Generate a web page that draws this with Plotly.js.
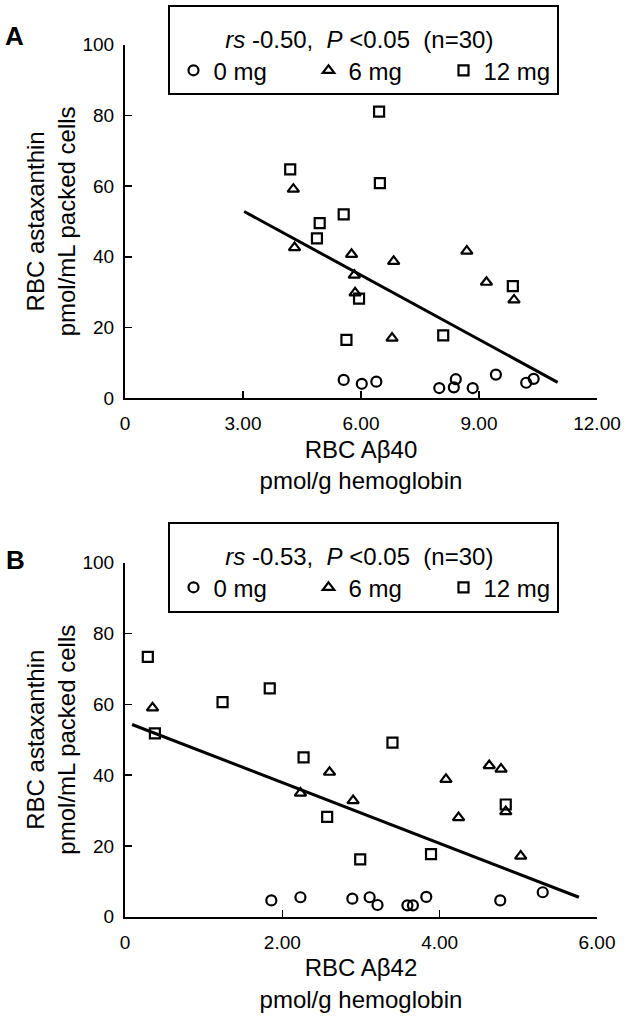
<!DOCTYPE html>
<html><head><meta charset="utf-8">
<script src="https://cdn.plot.ly/plotly-3.0.1.min.js"></script>
<style>html,body{margin:0;padding:0;background:#fff}#chart{width:629px;height:1018px}</style>
</head><body><div id="chart"></div>
<script>
// ---- Panel A: RBC Aβ40 (x) vs RBC astaxanthin (y)
const a_x_0mg  = [5.56, 6.02, 6.39, 7.99, 8.36, 8.41, 8.84, 9.43, 10.20, 10.39];
const a_y_0mg  = [5.2, 4.1, 4.7, 2.9, 3.1, 5.4, 2.9, 6.7, 4.4, 5.5];
const a_x_6mg  = [4.28, 4.31, 5.76, 6.83, 5.83, 5.85, 6.79, 8.69, 9.19, 9.89];
const a_y_6mg  = [59.1, 42.6, 40.7, 38.7, 34.8, 29.8, 17.0, 41.6, 32.8, 27.8];
const a_x_12mg = [6.46, 4.20, 6.48, 5.56, 4.95, 4.88, 5.95, 5.63, 8.09, 9.86];
const a_y_12mg = [81.0, 64.7, 60.8, 52.0, 49.5, 45.2, 28.2, 16.5, 17.8, 31.7];
const a_fit_x  = [3.03, 11.0];
const a_fit_y  = [52.8, 4.5];
const a_tickvals = [0, 3, 6, 9, 12];
const a_ticktext = ['0', '3.00', '6.00', '9.00', '12.00'];
const a_stat = '<i>rs</i> -0.50,&nbsp; <i>P</i> &lt;0.05&nbsp; (n=30)';
const a_xtitle = 'RBC Aβ40<br>pmol/g hemoglobin';

// ---- Panel B: RBC Aβ42 (x) vs RBC astaxanthin (y)
const b_x_0mg  = [1.86, 2.23, 2.89, 3.11, 3.21, 3.59, 3.66, 3.83, 4.77, 5.31];
const b_y_0mg  = [4.6, 5.5, 5.1, 5.5, 3.3, 3.2, 3.2, 5.6, 4.6, 6.9];
const b_x_6mg  = [0.35, 2.23, 2.60, 2.90, 4.08, 4.24, 4.63, 4.78, 4.84, 5.03];
const b_y_6mg  = [59.0, 34.9, 40.8, 32.8, 38.8, 28.0, 42.7, 41.7, 29.7, 17.1];
const b_x_12mg = [0.29, 0.38, 1.24, 1.84, 2.27, 3.40, 2.57, 2.99, 3.89, 4.84];
const b_y_12mg = [73.4, 51.8, 60.6, 64.5, 45.0, 49.2, 28.2, 16.2, 17.7, 31.7];
const b_fit_x  = [0.09, 5.77];
const b_fit_y  = [54.3, 5.5];
const b_tickvals = [0, 2, 4, 6];
const b_ticktext = ['0', '2.00', '4.00', '6.00'];
const b_stat = '<i>rs</i> -0.53,&nbsp; <i>P</i> &lt;0.05&nbsp; (n=30)';
const b_xtitle = 'RBC Aβ42<br>pmol/g hemoglobin';

// ---- shared
const y_tickvals = [0, 20, 40, 60, 80, 100];
const groups = ['0 mg', '6 mg', '12 mg'];
const symbols = ['circle-open', 'triangle-up-open', 'square-open'];
const ytitle = 'RBC astaxanthin<br>pmol/mL packed cells';

const W = 629, H = 1018;
const FONT = 'Liberation Sans, Arial, Helvetica, sans-serif';
const SIZES = [10, 10, 10];
const TITLE_PAD = '&nbsp;&nbsp;&nbsp;&nbsp;&nbsp;';

function pts(x, y, i, xa, ya, leg) {
  return {
    type: 'scatter', mode: 'markers', x: x, y: y, name: groups[i],
    xaxis: xa, yaxis: ya, legend: leg, cliponaxis: false,
    marker: {symbol: symbols[i], size: SIZES[i], color: '#000', line: {width: 2.2, color: '#000'}},
    hoverinfo: 'x+y+name'
  };
}
function fit(x, y, xa, ya) {
  return {type: 'scatter', mode: 'lines', x: x, y: y, xaxis: xa, yaxis: ya,
    line: {color: '#000', width: 3}, showlegend: false, hoverinfo: 'skip'};
}

const data = [
  pts(a_x_0mg, a_y_0mg, 0, 'x', 'y', 'legend'),
  pts(a_x_6mg, a_y_6mg, 1, 'x', 'y', 'legend'),
  pts(a_x_12mg, a_y_12mg, 2, 'x', 'y', 'legend'),
  fit(a_fit_x, a_fit_y, 'x', 'y'),
  pts(b_x_0mg, b_y_0mg, 0, 'x2', 'y2', 'legend2'),
  pts(b_x_6mg, b_y_6mg, 1, 'x2', 'y2', 'legend2'),
  pts(b_x_12mg, b_y_12mg, 2, 'x2', 'y2', 'legend2'),
  fit(b_fit_x, b_fit_y, 'x2', 'y2')
];

const xdom = [125 / W, 597 / W];
function xax(range, tv, tt, title, anchor) {
  return {
    domain: xdom, range: range, anchor: anchor, tickmode: 'array', tickvals: tv, ticktext: tt,
    ticks: 'inside', ticklen: 7, tickwidth: 1.5, tickcolor: '#000',
    showline: true, linecolor: '#000', linewidth: 2, mirror: false,
    showgrid: false, zeroline: false, automargin: false, fixedrange: true,
    tickfont: {size: 19, color: '#000'}, ticklabelstandoff: 7,
    title: {text: title, font: {size: 24, color: '#000'}, standoff: 8}
  };
}
function yax(dom, anchor) {
  return {
    domain: dom, range: [0, 100], anchor: anchor, tickmode: 'array', tickvals: y_tickvals,
    ticks: 'inside', ticklen: 7, tickwidth: 1.5, tickcolor: '#000',
    showline: true, linecolor: '#000', linewidth: 2,
    showgrid: false, zeroline: false, automargin: false, fixedrange: true,
    tickfont: {size: 19, color: '#000'}, ticklabelstandoff: 5,
    title: {text: ytitle, font: {size: 24, color: '#000'}, standoff: 0}
  };
}
function leg(ytop, stat) {
  return {
    x: 376 / W, xanchor: 'center', y: ytop, yanchor: 'top', orientation: 'h',
    bgcolor: 'rgba(0,0,0,0)', borderwidth: 0, font: {size: 24, color: '#000'},
    title: {text: stat + TITLE_PAD, side: 'top center', font: {size: 24, color: '#000'}},
    entrywidth: 90, entrywidthmode: 'pixels', itemwidth: 30, traceorder: 'normal'
  };
}
function box(top, bottom) {
  return {type: 'rect', xref: 'paper', yref: 'paper', x0: 169 / W, x1: 558 / W,
    y0: 1 - bottom / H, y1: 1 - top / H, line: {color: '#000', width: 2}, fillcolor: 'rgba(0,0,0,0)'};
}

const layout = {
  width: W, height: H, margin: {l: 0, r: 0, t: 0, b: 0},
  paper_bgcolor: '#fff', plot_bgcolor: '#fff',
  font: {family: FONT, color: '#000'},
  xaxis: xax([0, 12], a_tickvals, a_ticktext, a_xtitle, 'y'),
  yaxis: yax([1 - 398.3 / H, 1 - 44.5 / H], 'x'),
  xaxis2: xax([0, 6], b_tickvals, b_ticktext, b_xtitle, 'y2'),
  yaxis2: yax([1 - 916.7 / H, 1 - 562.7 / H], 'x2'),
  legend: leg(1 - 17 / H, a_stat),
  legend2: leg(1 - 534 / H, b_stat),
  shapes: [box(6, 94), box(523, 612)],
  annotations: [
    {text: '<b>A</b>', xref: 'paper', yref: 'paper', x: 3 / W, y: 1 - 36 / H, xanchor: 'left', yanchor: 'middle', showarrow: false, font: {size: 26, color: '#000'}},
    {text: '<b>B</b>', xref: 'paper', yref: 'paper', x: 4 / W, y: 1 - 560 / H, xanchor: 'left', yanchor: 'middle', showarrow: false, font: {size: 26, color: '#000'}}
  ],
  showlegend: true
};

Plotly.newPlot('chart', data, layout, {displayModeBar: false, staticPlot: true});
</script>
</body></html>
